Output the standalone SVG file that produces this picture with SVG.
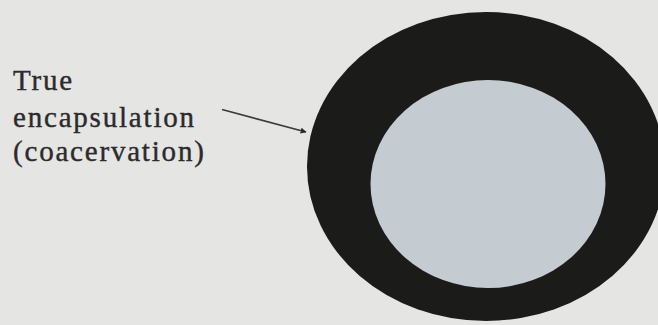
<svg xmlns="http://www.w3.org/2000/svg" width="658" height="325" viewBox="0 0 658 325">
<style>
.lbl{font-family:"Liberation Serif","Times New Roman",serif;font-size:29px;fill:#2b2b2b;stroke:#2b2b2b;stroke-width:0.4;letter-spacing:1.8px}
.conn{stroke:#3a3a3a;stroke-width:1.6;fill:none}
</style>
<defs>
<marker id="ah" viewBox="0 0 10 10" refX="9" refY="5" markerWidth="6" markerHeight="6" orient="auto" markerUnits="userSpaceOnUse">
<path d="M0,0 L10,5 L0,10 z" fill="#2b2b2b"/>
</marker>
</defs>
<rect width="658" height="325" fill="#e5e5e3"/>
<g id="outer">
<ellipse cx="486" cy="166.5" rx="179" ry="154.5" fill="#1b1c19"/>
</g>
<g id="inner">
<ellipse cx="488" cy="184" rx="117.5" ry="104" fill="#c4ccd1"/>
</g>
<g id="label">
<text class="lbl" x="13" y="90">True</text>
<text class="lbl" x="13" y="127">encapsulation</text>
<text class="lbl" x="13" y="161">(coacervation)</text>
</g>
<g id="connectors">
<line class="conn" x1="222" y1="109.5" x2="306" y2="132" marker-end="url(#ah)"/>
</g>
</svg>
